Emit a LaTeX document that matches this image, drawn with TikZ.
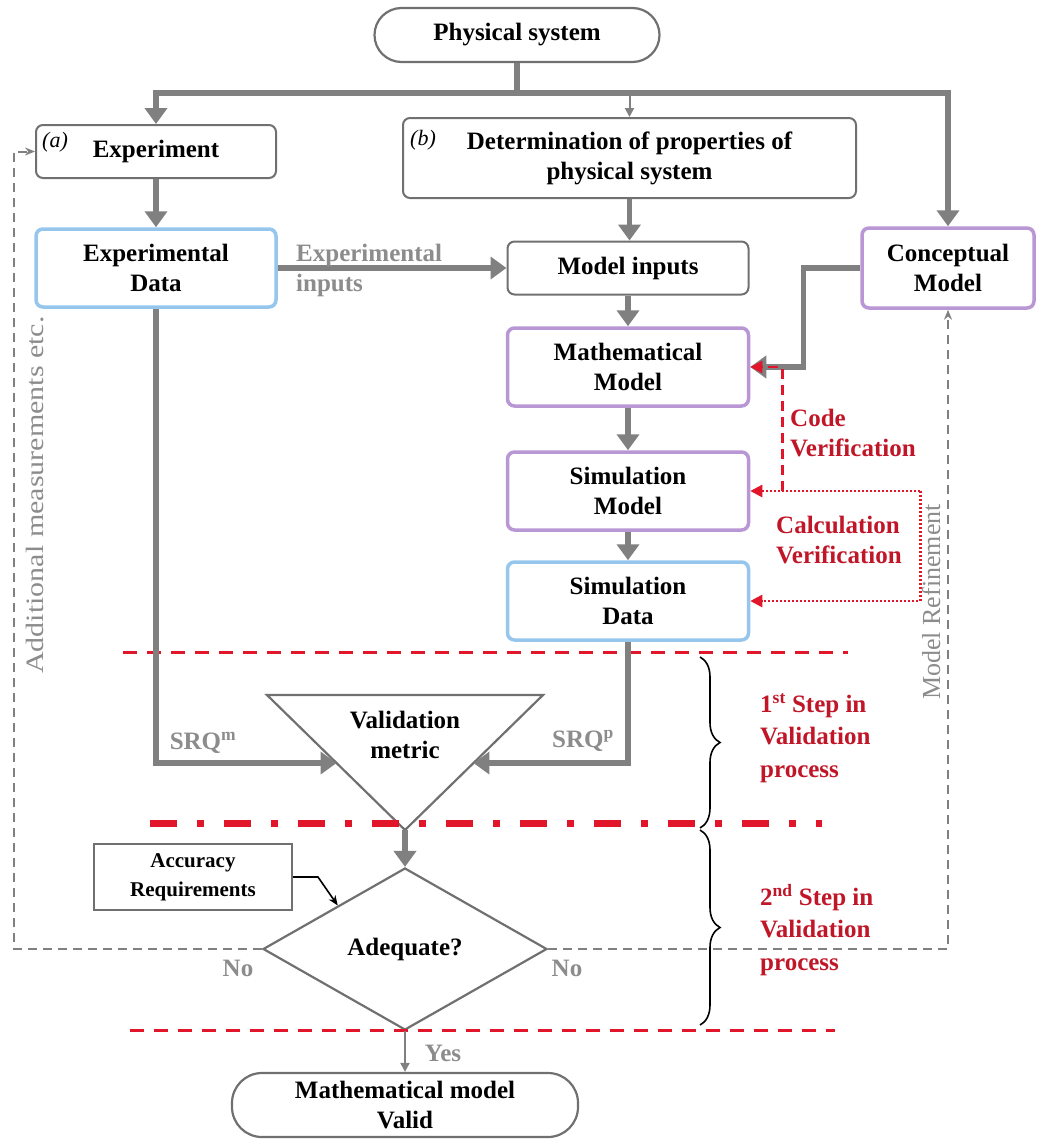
\documentclass[tikz,border=0pt]{standalone}
\usepackage{fontspec}
\usepackage{graphicx}
\setmainfont{Liberation Serif}
\usetikzlibrary{shapes.geometric, arrows.meta, decorations.pathreplacing, calc}
\definecolor{linegray}{RGB}{128,128,128}
\definecolor{bordergray}{RGB}{112,112,112}
\definecolor{bluebd}{RGB}{150,198,236}
\definecolor{purplebd}{RGB}{185,150,212}
\definecolor{redline}{RGB}{226,22,42}
\definecolor{redtext}{RGB}{192,22,40}
\definecolor{graytext}{RGB}{140,140,140}
\tikzset{
  mainfont/.style={font=\fontsize{25}{30}\selectfont\bfseries},
  box/.style={draw=bordergray, line width=2pt, rounded corners=7pt, fill=white,
    align=center, inner sep=0pt, mainfont},
  bluebox/.style={box, draw=bluebd, line width=3.5pt},
  purplebox/.style={box, draw=purplebd, line width=3.5pt},
  pill/.style={box, line width=2.2pt, rounded corners=27pt},
  thickarrow/.style={draw=linegray, line width=5.5pt,
    -{Triangle[length=16pt,width=22pt]}},
  thinarrow/.style={draw=linegray, line width=2pt,
    -{Triangle[length=9pt,width=9pt]}},
  loopline/.style={draw=linegray, line width=2pt, dash pattern=on 9pt off 6pt,
    -{Stealth[length=10pt,width=8pt]}},
  codever/.style={draw=redline, line width=2.5pt, dash pattern=on 10pt off 6pt,
    -{Triangle[length=12pt,width=12pt]}},
  calcver/.style={draw=redline, line width=2.5pt, dash pattern=on 2pt off 2pt,
    -{Triangle[length=12pt,width=12pt]}},
  reddash/.style={draw=redline, line width=3pt, dash pattern=on 14pt off 10pt},
  reddashdot/.style={draw=redline, line width=7pt,
    dash pattern=on 27pt off 20pt on 7pt off 20pt},
  graylabel/.style={text=graytext, mainfont, inner sep=0pt},
  redlabel/.style={text=redtext, mainfont, inner sep=0pt, align=left},
  bracestyle/.style={draw=black, line width=1.6pt,
    decorate, decoration={brace, amplitude=20pt}},
}
\begin{document}
\begin{tikzpicture}[x=1pt, y=-1pt]
\useasboundingbox (0,0) rectangle (1046,1140);

% nodes
\node[pill, minimum width=285pt, minimum height=54pt] (phys) at (517,35) {Physical system};
\node[box, minimum width=240pt, minimum height=53pt] (exp) at (156,151.5) {Experiment};
\node[font=\fontsize{22}{26}\selectfont\itshape, inner sep=0pt] (alab) at (55,142) {(a)};
\node[box, minimum width=453pt, minimum height=80pt] (det) at (629.5,158) {Determination of properties of\\physical system};
\node[font=\fontsize{22}{26}\selectfont\itshape, inner sep=0pt] (blab) at (423,140) {(b)};
\node[bluebox, minimum width=240pt, minimum height=78pt] (expd) at (156,268) {Experimental\\Data};
\node[box, minimum width=241pt, minimum height=53pt] (minp) at (628,268) {Model inputs};
\node[purplebox, minimum width=172pt, minimum height=80pt] (conc) at (948,268) {Conceptual\\Model};
\node[purplebox, minimum width=241pt, minimum height=78pt] (math) at (628,367) {Mathematical\\Model};
\node[purplebox, minimum width=241pt, minimum height=78pt] (simm) at (628,491) {Simulation\\Model};
\node[bluebox, minimum width=241pt, minimum height=78pt] (simd) at (628,601) {Simulation\\Data};

% validation triangle
\coordinate (tl) at (267,695);
\coordinate (tr) at (543,695);
\coordinate (ta) at (405,830);
\draw[draw=bordergray, line width=2.2pt, fill=white, line join=miter] (tl) -- (tr) -- (ta) -- cycle;
\node[mainfont, align=center, inner sep=0pt] (valm) at (405,735) {Validation\\metric};
\coordinate (vin1) at ($(tl)!0.504!(ta)$);
\coordinate (vin2) at ($(tr)!0.504!(ta)$);

\node[draw=bordergray, line width=2.2pt, shape=diamond, aspect=1.753, inner sep=0pt,
  minimum width=284pt, minimum height=162pt, mainfont] (ade) at (405,949) {Adequate?};
\node[draw=bordergray, line width=2pt, minimum width=198pt, minimum height=66pt, inner sep=0pt,
  align=center, font=\fontsize{21}{29}\selectfont\bfseries] (acc) at (193,877) {Accuracy\\Requirements};
\node[pill, minimum width=346pt, minimum height=64pt, rounded corners=30pt] (final) at (405,1105) {Mathematical model\\Valid};

% red separator lines
\draw[reddash] (123,652) -- (848,652);
\draw[reddashdot] (150,823) -- (822,823);
\draw[reddash] (130,1030) -- (835,1030);

% main flow
\coordinate (split) at (517,93);
\draw[draw=linegray, line width=5.5pt] (phys.south) -- (split);
\draw[thickarrow] (split) -| (exp.north);
\draw[thickarrow] (split) -| (conc.north);
\draw[thinarrow] (det.north |- split) -- (det.north);
\draw[thickarrow] (exp.south) -- (expd.north);
\draw[thickarrow] (expd.east) -- (minp.west);
\draw[thickarrow] (det.south) -- (det.south |- minp.north);
\draw[thickarrow] (minp.south) -- (math.north);
\draw[thickarrow] (math.south) -- (simm.north);
\draw[thickarrow] (simm.south) -- (simd.north);
\draw[thickarrow] (conc.west) -- ($(conc.west)+(-57,0)$) |- (math.east);

% verification
\draw[codever] ($(simm.east)+(32,0)$) |- (math.east);
\coordinate (cvr) at ($(simm.east)+(170,0)$);
\draw[calcver] (cvr) -- (simm.east);
\draw[calcver] (cvr) |- (simd.east);

% to validation metric
\draw[thickarrow] (expd.south) |- (vin1);
\draw[thickarrow] (simd.south) |- (vin2);
\draw[thickarrow] (ta) -- (ade.north);

% accuracy connector
\coordinate (accin) at ($(ade.north)!0.47!(ade.west)$);
\draw[draw=black, line width=1.6pt, -{Stealth[length=10pt,width=8pt]}] (acc.east) -- ++(25,0) -- (accin);

% feedback loops
\draw[loopline] (ade.west) -- ++(-248,0) |- (exp.west);
\draw[loopline] (ade.east) -| (conc.south);
\draw[thinarrow] (ade.south) -- (final.north);

% labels
\node[graylabel, align=left, anchor=west] (expin) at (296,270) {Experimental\\inputs};
\node[graylabel] (srqm) at (203,743) {SRQ\textsuperscript{m}};
\node[graylabel] (srqp) at (583,741) {SRQ\textsuperscript{p}};
\node[graylabel] (no1) at (238,968) {No};
\node[graylabel] (no2) at (567,968) {No};
\node[graylabel] (yes) at (443,1053) {Yes};
\node[redlabel, anchor=west] (cvlab) at (790,433) {Code\\Verification};
\node[redlabel, anchor=west] (calab) at (776,540) {Calculation\\Verification};

\node[rotate=90, text=graytext, inner sep=0pt] (addm) at (35,495)
  {\scalebox{1.2}[1]{\fontsize{25}{30}\selectfont Additional measurements etc.}};
\node[rotate=90, text=graytext, inner sep=0pt] (mref) at (931,602)
  {\fontsize{26}{30}\selectfont Model Refinement};

% braces
\draw[bracestyle] (700,657) -- (700,828);
\draw[bracestyle] (700,830) -- (700,1025);
\node[redlabel, anchor=west, font=\fontsize{25}{32.5}\selectfont\bfseries] (st1) at (760,738) {1\textsuperscript{st} Step in\\Validation\\process};
\node[redlabel, anchor=west, font=\fontsize{25}{32.5}\selectfont\bfseries] (st2) at (760,930) {2\textsuperscript{nd} Step in\\Validation\\process};
\end{tikzpicture}
\end{document}
